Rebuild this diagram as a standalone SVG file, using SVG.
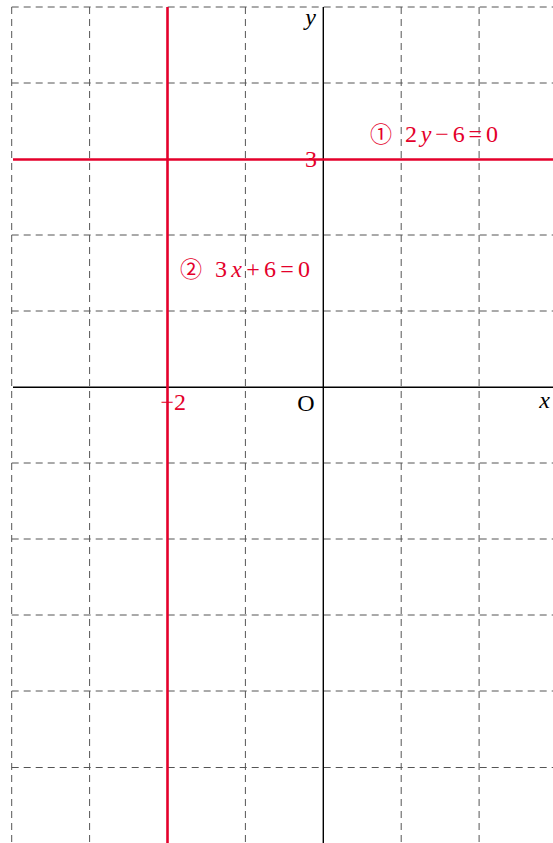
<svg xmlns="http://www.w3.org/2000/svg" width="553" height="843" viewBox="0 0 553 843">
<style>
.grid line{stroke:#555;stroke-width:1;stroke-dasharray:7 5;fill:none}
.axis{stroke:#000;stroke-width:1.4}
.red{stroke:#e4002b;stroke-width:2.6}
.t{font-family:"Liberation Serif",serif;font-size:24px}
.r{fill:#e4002b}
.k{fill:#000}
.i{font-style:italic}
.c{font-family:"Noto Sans CJK JP","Liberation Serif",serif;font-size:22px}
</style>
<rect width="553" height="843" fill="#fff"/>
<g id="grid" class="grid">
<line x1="11.7" y1="7" x2="553" y2="7"/>
<line x1="11.7" y1="83" x2="553" y2="83"/>
<line x1="11.7" y1="235" x2="553" y2="235"/>
<line x1="11.7" y1="311" x2="553" y2="311"/>
<line x1="11.7" y1="463" x2="553" y2="463"/>
<line x1="11.7" y1="539" x2="553" y2="539"/>
<line x1="11.7" y1="615" x2="553" y2="615"/>
<line x1="11.7" y1="691" x2="553" y2="691"/>
<line x1="11.7" y1="767.5" x2="553" y2="767.5"/>
<line x1="11.7" y1="7" x2="11.7" y2="843"/>
<line x1="89.6" y1="7" x2="89.6" y2="843"/>
<line x1="245.4" y1="7" x2="245.4" y2="843"/>
<line x1="401.2" y1="7" x2="401.2" y2="843"/>
<line x1="479.1" y1="7" x2="479.1" y2="843"/>
</g>
<g id="axes">
<line class="axis" x1="13" y1="387.3" x2="553" y2="387.3"/>
<line class="axis" x1="323.3" y1="7" x2="323.3" y2="843"/>
</g>
<g id="connectors">
<line id="line1" class="red" x1="13" y1="159.5" x2="553" y2="159.5"/>
<line id="line2" class="red" x1="167.5" y1="7" x2="167.5" y2="843"/>
</g>
<g id="labels">
<text class="t k i" x="316" y="25" text-anchor="end">y</text>
<text class="t k i" x="550" y="408" text-anchor="end">x</text>
<text class="t k" x="306" y="411" text-anchor="middle">O</text>
<text class="t r" x="317" y="167" text-anchor="end">3</text>
<text class="t r" x="186" y="410" text-anchor="end">−2</text>
</g>
<g id="label1">
<text class="c r" x="370" y="142">①</text>
<text class="t r" x="405" y="142" textLength="93" lengthAdjust="spacing">2<tspan class="i">y</tspan>−6=0</text>
</g>
<g id="label2">
<text class="c r" x="180" y="277">②</text>
<text class="t r" x="215" y="277" textLength="95" lengthAdjust="spacing">3<tspan class="i">x</tspan>+6=0</text>
</g>
</svg>
